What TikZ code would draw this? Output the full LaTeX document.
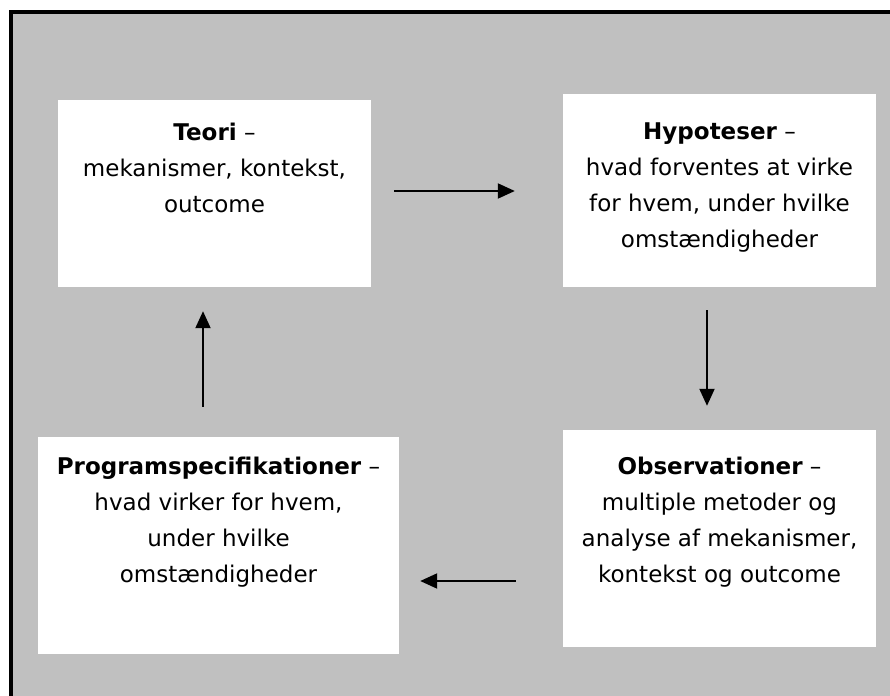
\documentclass[tikz,border=0pt]{standalone}
\usepackage{fontspec}
\setmainfont{DejaVu Sans}
\usetikzlibrary{positioning,arrows.meta}
\definecolor{framegray}{RGB}{192,192,192}
\tikzset{
    box/.style={fill=white, inner sep=0pt},
    boxtext/.style={align=center, inner sep=0pt, font=\fontsize{23}{36}\selectfont},
    flow/.style={line width=2pt, -{Triangle[length=17pt,width=15pt]}}
}
\begin{document}
\begin{tikzpicture}[x=1pt, y=-1pt]
    \useasboundingbox (0,0) rectangle (890,695);
    \clip (0,0) rectangle (890,695);
    \filldraw[fill=framegray, line width=4pt] (11,12) rectangle (910,715);
    % the four boxes
    \node[box, minimum width=313pt, minimum height=187pt] (teori) at (214.5,193.5) {};
    \node[box, minimum width=313pt, minimum height=193pt] (hyp) at (719.5,190.5) {};
    \node[box, minimum width=361pt, minimum height=217pt] (prog) at (218.5,545.5) {};
    \node[box, minimum width=313pt, minimum height=217pt] (obs) at (719.5,538.5) {};
    \node[boxtext, below=23pt of teori.north] (teoritext) {\textbf{Teori} --\\mekanismer, kontekst,\\outcome};
    \node[boxtext, below=29pt of hyp.north] (hyptext) {\textbf{Hypoteser} --\\hvad forventes at virke\\for hvem, under hvilke\\omstændigheder};
    \node[boxtext, below=20pt of prog.north] (progtext) {\textbf{Programspecifikationer} --\\hvad virker for hvem,\\under hvilke\\omstændigheder};
    \node[boxtext, below=27pt of obs.north] (obstext) {\textbf{Observationer} --\\multiple metoder og\\analyse af mekanismer,\\kontekst og outcome};
    % arrows between the boxes
    \draw[flow] ([xshift=23pt,yshift=2.5pt]teori.east) -- ([xshift=-48pt,yshift=-0.5pt]hyp.west);
    \draw[flow] ([xshift=-12.5pt,yshift=-23pt]hyp.south) -- ([xshift=-12.5pt,yshift=24pt]obs.north);
    \draw[flow] ([xshift=-47pt,yshift=-42.5pt]obs.west) -- ([xshift=21pt,yshift=-35.5pt]prog.east);
    \draw[flow] ([xshift=-15.5pt,yshift=30pt]prog.north) -- ([xshift=-11.5pt,yshift=-24pt]teori.south);
\end{tikzpicture}
\end{document}
